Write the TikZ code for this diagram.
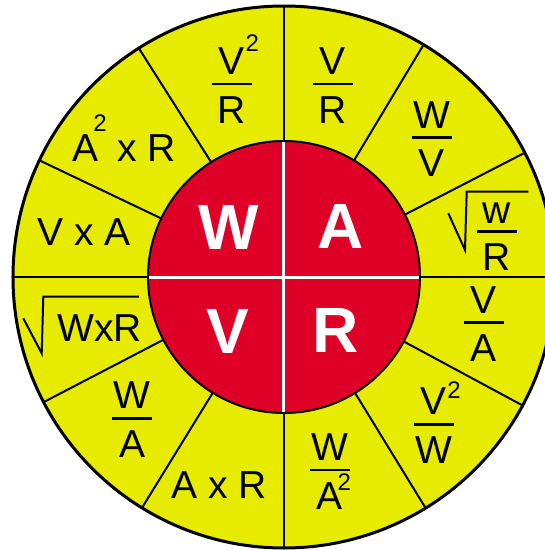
\documentclass[tikz,border=0pt]{standalone}
\usepackage{fontspec}
\setmainfont{Liberation Sans}
\definecolor{wheelyellow}{RGB}{230,235,0}
\definecolor{wheelred}{RGB}{222,0,38}
\newcommand{\sqtwo}[2]{\kern#1\raisebox{#2}{\fontsize{24pt}{24pt}\selectfont 2}}

\begin{document}
\begin{tikzpicture}[x=1pt, y=1pt,
	lbl/.style={inner sep=0pt, font=\fontsize{39pt}{39pt}\selectfont},
	big/.style={inner sep=0pt, text=white, font=\fontsize{64pt}{64pt}\selectfont\bfseries},
	divider/.style={line width=2pt},
	bar/.style={line width=2.6pt},
	root/.style={line width=2pt, line join=miter}]
			\useasboundingbox (-284,-273) rectangle (261,277);
			
			% outer ring and its twelve sectors
			\filldraw[fill=wheelyellow, line width=3pt] (0,0) circle[radius=271pt];
			\draw[divider] (0:136pt) -- (0:271pt);
			\draw[divider] (27.3:136pt) -- (27.3:271pt);
			\draw[divider] (59:136pt) -- (59:271pt);
			\draw[divider] (90:136pt) -- (90:271pt);
			\draw[divider] (122.4:136pt) -- (122.4:271pt);
			\draw[divider] (154.5:136pt) -- (154.5:271pt);
			\draw[divider] (180:136pt) -- (180:271pt);
			\draw[divider] (207.5:136pt) -- (207.5:271pt);
			\draw[divider] (238.4:136pt) -- (238.4:271pt);
			\draw[divider] (270:136pt) -- (270:271pt);
			\draw[divider] (301.5:136pt) -- (301.5:271pt);
			\draw[divider] (331.7:136pt) -- (331.7:271pt);
			
			% red hub
			\filldraw[fill=wheelred, line width=2pt] (0,0) circle[radius=136pt];
			\draw[white, line width=3pt] (180:135pt) -- (0:135pt);
			\draw[white, line width=3pt] (90:135pt) -- (270:135pt);
			
			\node[big] (w) at (-55,50) {W};
			\node[big] (a) at (56.5,50.5) {A};
			\node[big] (v) at (-56.5,-54.5) {V};
			\node[big] (r) at (52,-53) {R};
			
			% fractions: numerator, denominator, bar
			\coordinate (vvr) at (-52,193);
			\node[lbl, anchor=base] (vvr-n) at ([yshift=9.5pt]vvr) {V\rlap{\sqtwo{0.7pt}{23pt}}};
			\node[lbl, anchor=base] (vvr-d) at ([yshift=-39pt]vvr) {R};
			\draw[bar] ([xshift=-20pt]vvr) -- ([xshift=20pt]vvr);
			
			\coordinate (vr) at (49,193);
			\node[lbl, anchor=base] (vr-n) at ([yshift=9.5pt]vr) {V};
			\node[lbl, anchor=base] (vr-d) at ([yshift=-39pt]vr) {R};
			\draw[bar] ([xshift=-20pt]vr) -- ([xshift=20pt]vr);
			
			\coordinate (wv) at (148,139.3);
			\node[lbl, anchor=base] (wv-n) at ([yshift=9.5pt]wv) {W};
			\node[lbl, anchor=base] (wv-d) at ([yshift=-39pt]wv) {V};
			\draw[bar] ([xshift=-20pt]wv) -- ([xshift=20pt]wv);
			
			\coordinate (wr) at (212.7,45.3);
			\node[lbl, anchor=base] (wr-n) at ([yshift=8.5pt]wr) {w};
			\node[lbl, anchor=base] (wr-d) at ([yshift=-39pt]wr) {R};
			\draw[bar] ([xshift=-20pt]wr) -- ([xshift=20pt]wr);
			\draw[root] ([shift={(-48.4,18.4)}]wr) -- ([shift={(-31.7,-18.3)}]wr)
				-- ([shift={(-30,40)}]wr) -- ([shift={(31.6,40)}]wr);
			
			\coordinate (va) at (199.7,-45.7);
			\node[lbl, anchor=base] (va-n) at ([yshift=9.5pt]va) {V};
			\node[lbl, anchor=base] (va-d) at ([yshift=-39pt]va) {A};
			\draw[bar] ([xshift=-20pt]va) -- ([xshift=20pt]va);
			
			\coordinate (vvw) at (149.7,-147.3);
			\node[lbl, anchor=base] (vvw-n) at ([yshift=9.5pt]vvw) {V\rlap{\sqtwo{0.7pt}{16pt}}};
			\node[lbl, anchor=base] (vvw-d) at ([yshift=-39pt]vvw) {W};
			\draw[bar] ([xshift=-20pt]vvw) -- ([xshift=20pt]vvw);
			
			\coordinate (waa) at (46,-193);
			\node[lbl, anchor=base] (waa-n) at ([yshift=9.5pt]waa) {W};
			\node[lbl, anchor=base] (waa-d) at ([yshift=-39pt]waa) {A\rlap{\sqtwo{-5.5pt}{18.4pt}}};
			\draw[bar] ([xshift=-20pt]waa) -- ([xshift=20pt]waa);
			
			\coordinate (wa) at (-151.8,-141.3);
			\node[lbl, anchor=base] (wa-n) at ([yshift=9.5pt]wa) {W};
			\node[lbl, anchor=base] (wa-d) at ([yshift=-39pt]wa) {A};
			\draw[bar] ([xshift=-20pt]wa) -- ([xshift=20pt]wa);
			
			% products
			\node[lbl] (vxa) at (-199.8,44.7) {V x A};
			\node[lbl, anchor=base west] (aaxr) at (-211.5,115.3) {A\sqtwo{-5.3pt}{30pt} x R};
			\node[lbl] (axr) at (-64.8,-208) {A x R};
			\node[lbl, anchor=base west] (wxr) at (-227,-64.7) {WxR};
			\draw[root] ([shift={(-33.7,23.4)}]wxr.base west) -- ([shift={(-15.3,-11.6)}]wxr.base west)
				-- ([shift={(-13.7,45)}]wxr.base west) -- ([shift={(82,45)}]wxr.base west);
		\end{tikzpicture}
\end{document}
